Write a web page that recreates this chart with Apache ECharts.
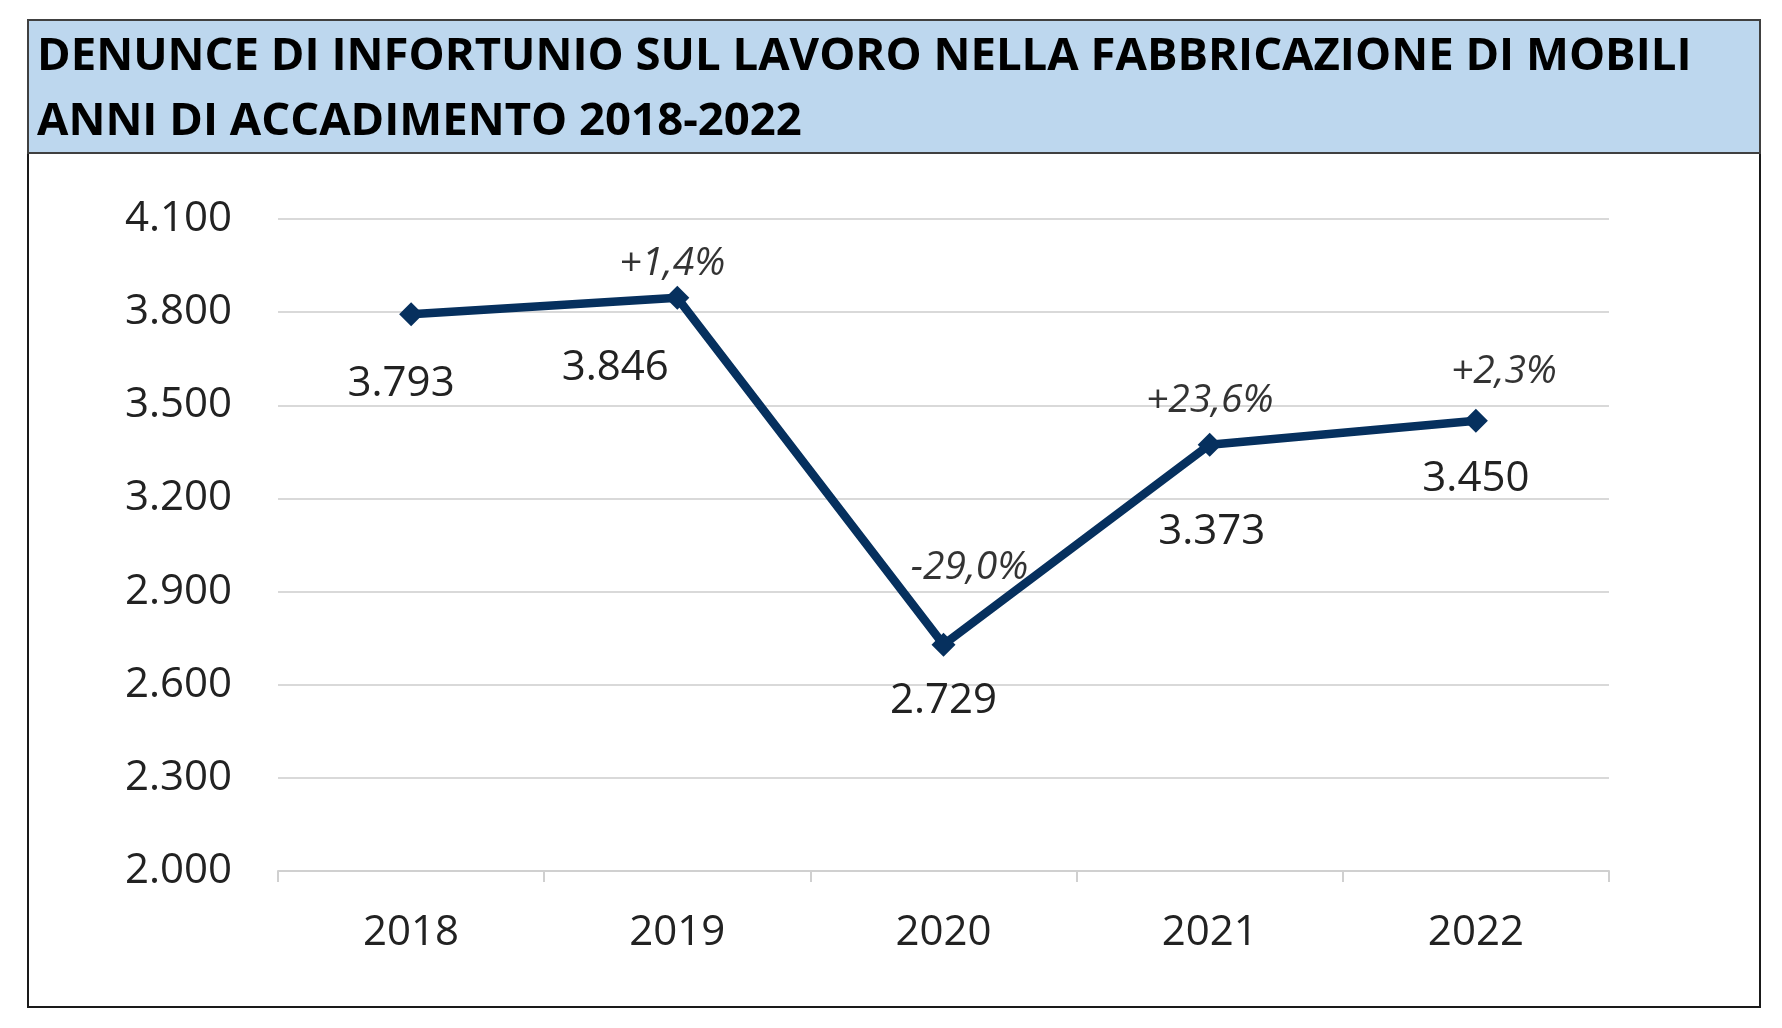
<!DOCTYPE html>
<html>
<head>
<meta charset="utf-8">
<script src="https://cdn.jsdelivr.net/npm/echarts@6/dist/echarts.min.js"></script>
<style>
  html, body { margin: 0; padding: 0; background: #ffffff; }
  #chart { width: 1782px; height: 1028px; }
</style>
</head>
<body>
<div id="chart"></div>
<script>
const titleLines = ['DENUNCE DI INFORTUNIO SUL LAVORO NELLA FABBRICAZIONE DI MOBILI', 'ANNI DI ACCADIMENTO 2018-2022'];
const years = ['2018', '2019', '2020', '2021', '2022'];
const denunce = [3793, 3846, 2729, 3373, 3450];
const variazioni = ['', '+1,4%', '-29,0%', '+23,6%', '+2,3%'];
const yTicks = { min: 2000, max: 4100, step: 300 };

// label placement (layout only)
const valueOffsets = [[-10, 70], [-62, 70], [0, 56], [2, 87], [0, 58]];
const pctOffsets = [[0, 0], [-5, -34], [26, -77], [0, -44], [28, -49]];

function fmt(v) {
  return String(v).replace(/\B(?=(\d{3})+(?!\d))/g, '.');
}

const chart = echarts.init(document.getElementById('chart'), null, { renderer: 'canvas' });
const textColor = '#222222';
const lineColor = '#06305e';

const option = {
  backgroundColor: '#ffffff',
  animation: false,
  graphic: [
    { type: 'rect', shape: { x: 28, y: 20, width: 1732, height: 987 }, style: { fill: 'none', stroke: '#1a1a1a', lineWidth: 2 }, z: 1 },
    { type: 'rect', shape: { x: 28, y: 20, width: 1732, height: 133 }, style: { fill: '#bdd7ee', stroke: '#404040', lineWidth: 2 }, z: 2 },
    { type: 'text', x: 37, y: 57, z: 3, style: { text: titleLines[0], font: 'bold 45.5px "Open Sans"', fill: '#000000', verticalAlign: 'middle' } },
    { type: 'text', x: 37, y: 122, z: 3, style: { text: titleLines[1], font: 'bold 45.5px "Open Sans"', fill: '#000000', verticalAlign: 'middle' } }
  ],
  grid: { left: 278, right: 173, top: 219, bottom: 157, containLabel: false },
  xAxis: {
    type: 'category',
    data: years,
    boundaryGap: true,
    axisLine: { show: true, lineStyle: { color: '#d0d0d0', width: 2 } },
    axisTick: { show: true, length: 11, lineStyle: { color: '#d0d0d0', width: 2 } },
    axisLabel: { color: textColor, fontFamily: 'Open Sans', fontSize: 42, margin: 41 },
    splitLine: { show: false }
  },
  yAxis: {
    type: 'value',
    min: yTicks.min,
    max: yTicks.max,
    interval: yTicks.step,
    axisLine: { show: false },
    axisTick: { show: false },
    axisLabel: { color: textColor, fontFamily: 'Open Sans', fontSize: 42, margin: 46, formatter: v => fmt(v) },
    splitLine: { show: true, lineStyle: { color: '#d9d9d9', width: 2 } }
  },
  series: [
    {
      type: 'line',
      data: denunce.map((v, i) => ({
        value: v,
        label: { offset: valueOffsets[i] }
      })),
      symbol: 'diamond',
      symbolSize: 24,
      lineStyle: { color: lineColor, width: 8.5 },
      itemStyle: { color: lineColor },
      z: 5,
      label: {
        show: true,
        position: 'inside',
        color: textColor,
        fontFamily: 'Open Sans',
        fontSize: 42,
        formatter: p => fmt(p.value)
      }
    },
    {
      type: 'scatter',
      data: denunce.map((v, i) => ({
        value: v,
        label: { offset: pctOffsets[i] }
      })),
      symbolSize: 1,
      itemStyle: { color: 'rgba(0,0,0,0)' },
      z: 6,
      label: {
        show: true,
        position: 'inside',
        color: '#000000',
        fontFamily: 'Open Sans',
        fontStyle: 'italic',
        fontSize: 39,
        formatter: p => variazioni[p.dataIndex]
      }
    }
  ]
};
chart.setOption(option);
</script>
</body>
</html>
